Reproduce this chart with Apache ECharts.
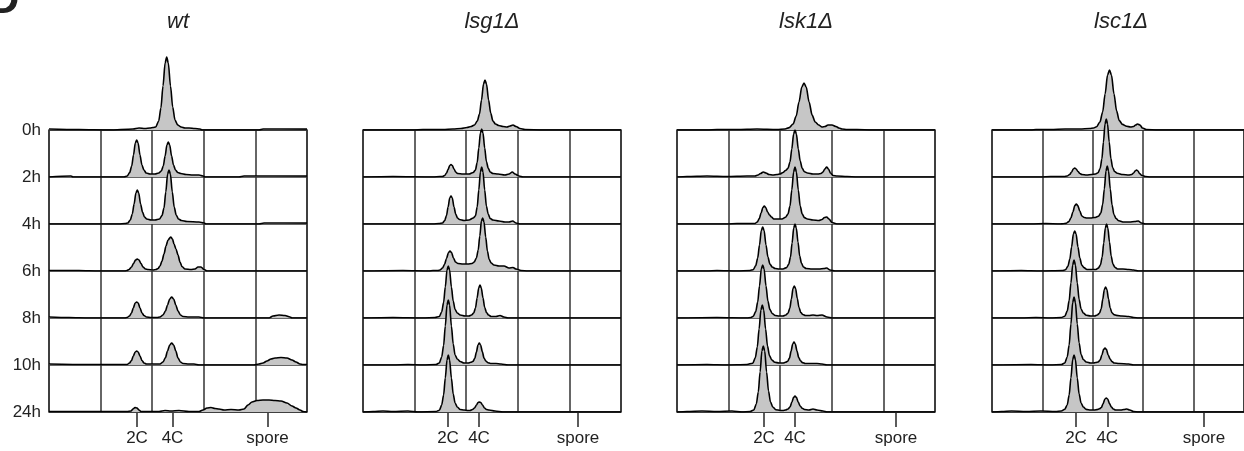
<!DOCTYPE html>
<html><head><meta charset="utf-8">
<script src="https://cdn.jsdelivr.net/npm/echarts@6/dist/echarts.min.js"></script>
<style>html,body{margin:0;padding:0;background:#fff}#c{width:1244px;height:451px}</style>
</head><body><div id="c"></div>
<script>
// ---- labels ----
const panelTitles = ['wt', 'lsg1Δ', 'lsk1Δ', 'lsc1Δ'];
const rowLabels = ['0h', '2h', '4h', '6h', '8h', '10h', '24h'];
const tickNames = ['2C', '4C', 'spore'];
const tickPos_wt = [88, 123.5, 218.5];
const tickPos_lsg1 = [85, 116, 215];
const tickPos_lsk1 = [87, 118, 219];
const tickPos_lsc1 = [86, 118, 217];

// ---- histograms: [DNA content channel, cell count] ----
const wt_0h = [[0,1],[30,0.5],[60,0],[84,1],[90,2],[96,1.5],[101,2],[104,2.5],[106.7,3],[109.7,9],[111.9,22],[114,44],[116.1,67],[117.7,73],[119.3,67],[121.5,44],[123.7,23],[126,10],[128.7,5],[132.1,3],[136,2],[140,2],[146,1.5],[151,1],[153,0],[210,0],[214,1],[230,1],[258,1]];
const wt_2h = [[0,0],[22,1],[24,0],[75,0],[78.2,1],[80.7,4.5],[82.7,11],[84.5,22],[86.3,34],[87.7,37],[89.1,34],[91,22],[92.9,12],[94.9,7],[97.2,4],[101,3],[106,3],[109.8,4],[112.3,6],[114.3,11],[116.1,21],[117.9,32],[119.3,35],[120.7,32],[122.6,21],[124.5,12],[126.5,7],[128.8,4.5],[131.8,3.5],[137,2.5],[144,2],[150,2],[154,1],[156,0],[190,0],[195,1],[205,1],[215,1],[225,1],[258,1]];
const wt_4h = [[0,0],[70,0],[76,0.5],[78.8,1],[81.3,4],[83.3,10],[85.1,20],[86.9,31],[88.3,34],[89.7,31],[91.6,20],[93.5,12],[95.5,7],[97.8,5],[102,4],[106,4],[110.5,5],[113,8.5],[115,16],[116.8,32],[118.6,50],[120,54],[121.4,50],[123.3,32],[125.2,17],[127.2,9],[129.5,5],[132.5,3.5],[138,2.5],[150,2],[155,1],[157,0],[210,0],[215,1],[235,1],[258,1]];
const wt_6h = [[0,0.5],[30,0.5],[50,0],[76,0],[78,0.5],[80,1.5],[82.5,4],[84.5,7.5],[86.5,11],[88.3,12],[90,11],[92,7.5],[94,4],[96.5,2],[99,1.5],[104,1],[107,1.5],[109,2.5],[111,5],[113,10],[115,17],[117,25],[119,31],[121.7,34],[123.5,32],[125,27],[127,22],[129,16],[131,9],[133,4.5],[136,2],[142,1.5],[146,2],[149,4],[152,4],[155,1.5],[158,0],[258,0]];
const wt_8h = [[0,1],[20,0.5],[40,0],[76,0],[78,0.5],[80.5,2],[82.5,5],[84.3,10],[86.2,15],[87.7,16],[89.2,15],[91,10],[93,5],[95,2.5],[97.5,1],[102,0.5],[108,0.5],[111,1],[114,3],[116.5,7],[118.5,13],[120.7,19],[122.7,21],[124.7,19],[126.8,13],[129,7],[131.5,3],[134,1.5],[140,1],[150,1],[155,0],[220,0],[224,2],[230,3],[236,2.5],[241,1],[243,0],[258,0]];
const wt_10h = [[0,1],[40,0.5],[76,0.5],[78,0.5],[80.5,2],[82.5,4.5],[84.3,9],[86.2,13],[87.7,14],[89.2,13],[91,9],[93,4.5],[95,2],[97.5,1],[102,1],[108,1],[111,1],[114,3],[116.5,7.5],[118.5,14],[120.7,20],[122.7,22],[124.7,20],[126.8,14],[129,7],[131.5,3],[134,1.5],[140,1],[145,1],[150,0],[205,0],[210,1],[214,2],[218,4],[222,6],[226,7],[232,7.5],[238,7],[243,5],[247,3],[251,1],[254,0.5],[258,0.5]];
const wt_24h = [[0,0.5],[40,0.5],[78,0.5],[82,1],[84,3],[86,4.5],[88,4],[90,2],[92,0.5],[110,0.5],[116,1.5],[122,1],[130,1.5],[140,0.5],[150,0.5],[154,2],[158,4],[162,4.5],[166,3.5],[170,3],[175,2],[182,2.5],[190,2],[195,3],[199,7],[203,10],[208,11.5],[214,12],[220,12],[226,11.5],[232,11],[238,9],[243,6],[247,4],[251,2],[254,0.5],[258,0]];

const lsg1_0h = [[0,0],[50,0],[60,0.5],[80,0.5],[90,1],[98,1.5],[104,2.5],[108,3.5],[111.5,5],[114.3,9],[116.5,16],[118.5,30],[120.5,46],[122,50],[123.5,46],[125.6,30],[127.7,17],[129.9,9],[132.5,6],[135.8,4.5],[140,3.5],[144,3],[147,4],[150,5],[153,3.5],[157,1.5],[162,0.5],[180,0],[258,0]];
const lsg1_2h = [[0,0],[30,0.5],[70,0],[77,0.5],[79.5,0.5],[81.7,1.5],[83.5,4],[85.1,7.5],[86.7,11.5],[88,12.5],[89.3,11.5],[91,8],[92.7,5],[94.5,3.5],[100,3],[106,3],[110.2,4.5],[112.4,7],[114.2,14.5],[115.8,29],[117.4,44],[118.7,48],[120,44],[121.7,29],[123.4,15.5],[125.2,9],[127.2,5],[129.9,3.5],[135,3],[142,2],[146,3],[149.3,5],[152,3],[156,1],[160,0],[258,0]];
const lsg1_4h = [[0,0],[70,0],[76,0.5],[79.5,1],[81.7,3.5],[83.5,8.5],[85.1,17],[86.7,26],[88,28],[89.3,26],[91,17],[92.7,10],[94.5,6],[96.5,4.5],[101,3.5],[106,4],[110.2,6],[112.4,8],[114.2,17],[115.8,34],[117.4,52],[118.7,57],[120,52],[121.7,34],[123.4,18],[125.2,10],[127.2,5.5],[129.9,4],[136,3],[142,2],[146,2],[149.7,3],[153,1],[157,0],[258,0]];
const lsg1_6h = [[0,0],[40,0.5],[66,0],[70,0.5],[75,0.5],[77,1],[79.5,3],[81.5,6.5],[83.5,12.5],[85.5,18.5],[87,20],[88.5,18.5],[90.5,13],[92.5,9],[95,7.5],[100,7],[105,7],[109,7.5],[111.2,9],[113.4,13],[115.2,21],[116.8,35],[118.4,50],[119.7,53],[121,49],[122.7,34],[124.4,20],[126.2,11.5],[128.2,8],[130.9,6],[136,5],[141,5],[146,3],[150,3.5],[153,2],[158,0.5],[165,0],[258,0]];
const lsg1_8h = [[0,0],[30,0.5],[60,0],[72,0.5],[76.3,1.5],[78.7,6],[80.6,15.5],[82.3,31],[84,48],[85.3,52],[86.6,48],[88.4,31],[90.2,17],[92.1,8.5],[94.3,5],[97.2,3],[102,2],[106,2],[108.5,3],[110.7,5],[112.5,10],[114.1,20],[115.7,30],[117,33],[118.3,30],[120,20],[121.7,10.5],[123.5,5.5],[125.5,3],[128.2,1.5],[133,1.5],[137,2.5],[141,1],[145,0],[258,0]];
const lsg1_10h = [[0,0],[30,0],[45,0.5],[60,0],[73,0.5],[76.3,2],[78.7,8],[80.6,19.5],[82.3,39],[84,60],[85.3,65],[86.6,60],[88.4,39],[90.2,21],[92.1,10],[94.3,6],[97.2,3.5],[101,2],[105,2],[107.8,2.7],[110,3.6],[111.8,6.6],[113.4,13],[115,20],[116.3,22],[117.6,20],[119.3,13.5],[121,7],[122.8,4],[124.8,2.3],[127.5,1.5],[133,1.5],[138,1],[145,0],[258,0]];
const lsg1_24h = [[0,0],[10,0.5],[20,1],[30,0.5],[45,1],[55,0],[73,0.5],[76.3,1.7],[78.7,7],[80.6,17],[82.3,34],[84,52],[85.3,57],[86.6,52],[88.4,34],[90.2,18],[92.1,9],[94.3,5],[97.2,2.5],[101,2],[105,1.5],[107,1.5],[109.5,2.5],[111.5,4],[113.5,7],[115,9.5],[116.3,10],[117.8,9.5],[119.5,7],[121.5,4],[123.5,2.5],[126,2],[132,1],[140,0],[258,0]];

const lsk1_0h = [[0,0],[30,0],[40,0.5],[60,0.5],[80,1],[100,0.5],[108,1],[112.3,2.4],[116.1,6],[119.2,14],[122,28],[124.8,43],[127,47],[129.2,43],[132.1,28],[135.1,15],[138.2,8],[141.7,5],[145,3],[148,3.5],[151,5],[155,5],[159,3.5],[162,2],[165,1],[170,0.5],[180,0.5],[195,0],[258,0]];
const lsk1_2h = [[0,0],[10,0.5],[30,1],[50,0.5],[70,1],[78,1],[81,2],[83.5,3.5],[86.3,5],[89,4],[92,2.5],[96,2],[100,2.5],[103,3],[106,4.5],[108.5,6.5],[111,8.6],[113,15],[114.8,28],[116.6,43],[118,47],[119.4,43],[121.3,28],[123.2,16],[125.2,8.6],[127.5,5.3],[130.5,4],[136,3],[141,3],[144,3.5],[146,5],[147.8,8],[149.7,10],[151.5,8],[153.5,4],[156,1.5],[160,1],[170,0.5],[180,0],[258,0]];
const lsk1_4h = [[0,0],[50,0],[60,0.5],[75,0.5],[77.8,0.5],[80.3,2],[82.3,5.5],[84.1,11],[85.9,16.5],[87.3,18],[88.7,16.5],[90.6,12],[92.5,9],[94.5,7],[96.8,5],[101,5],[105,5],[108.5,6.7],[111,10],[113,18],[114.8,34],[116.6,52],[118,57],[119.4,52],[121.3,34],[123.2,18],[125.2,10],[127.5,6.4],[130.5,5],[136,4],[142,3.5],[145,4.5],[147.5,6.5],[149.7,7],[152,5],[155,1.5],[160,0],[258,0]];
const lsk1_6h = [[0,0],[30,0],[40,0.5],[60,0],[73,0.5],[76.2,1.3],[78.7,5.3],[80.7,13],[82.5,26],[84.3,40.5],[85.7,44],[87.1,40.5],[89,26],[90.9,14],[92.9,7],[95.2,4],[98.2,2.5],[102,2],[106,2],[109.5,3.4],[111.7,6.6],[113.5,14],[115.1,28],[116.7,43],[118,47],[119.3,43],[121,29],[122.7,15],[124.5,7.6],[126.5,4],[129.2,2.5],[135,2],[142,2],[147,2.5],[149.7,3],[153,1],[158,0],[258,0]];
const lsk1_8h = [[0,0],[40,0.5],[70,0],[74,0.5],[76.2,1.6],[78.7,6.4],[80.7,16],[82.5,32],[84.3,49],[85.7,53],[87.1,49],[89,32],[90.9,17],[92.9,8.4],[95.2,4.5],[98.2,2.5],[102,2],[106,2],[108.8,3],[111,4.8],[112.8,9.6],[114.4,19],[116,29.5],[117.3,32],[118.6,29.5],[120.3,19.5],[122,10.5],[123.8,5.5],[125.8,3.5],[128.5,2.5],[132,2.5],[136,3],[140,2.5],[145,3],[150,1],[155,0],[258,0]];
const lsk1_10h = [[0,0],[30,0.5],[50,0],[70,0.5],[75.8,1.8],[78.3,7.2],[80.3,18],[82.1,36],[83.9,55],[85.3,60],[86.7,55],[88.6,36],[90.5,19],[92.5,9.4],[94.8,5],[97.8,2.7],[102,2],[106,2],[108.5,2.7],[110.7,3.8],[112.5,7],[114.1,14],[115.7,21],[117,23],[118.3,21],[120,14],[121.7,7.5],[123.5,4.2],[125.5,2.4],[128.2,1.5],[134,1.5],[140,1.5],[145,1],[150,0],[258,0]];
const lsk1_24h = [[0,0],[10,0.5],[25,1],[40,0.5],[55,1],[65,0],[73,0.5],[76.8,2],[79.3,8],[81.3,20],[83.1,40],[84.9,61],[86.3,66],[87.7,61],[89.6,40],[91.5,21],[93.5,10],[95.8,5],[98.8,2.3],[103,1.5],[106,1.5],[108.5,2],[111,3],[113,5],[114.8,9.6],[116.6,14.7],[118,16],[119.4,14.7],[121.3,9.6],[123.2,6],[125.2,3.7],[127.5,2.5],[132,2],[136,3],[140,2],[146,1],[150,0],[258,0]];

const lsc1_0h = [[0,0],[40,0],[45,0.5],[60,0.5],[75,1],[90,1],[100,1.5],[104,2],[107,3.3],[110.5,8],[113.3,18],[115.8,36],[118.3,55],[120.3,60],[122.3,55],[124.9,36],[127.6,19],[130.3,9.4],[133.6,5.6],[137.8,3.7],[142,3],[145,3.5],[147,5],[149,6],[151.5,5],[154,2],[158,0.5],[170,0],[258,0]];
const lsc1_2h = [[0,0],[50,0],[60,0.5],[74,0.5],[77,1],[79.5,2.5],[81.5,5],[83.2,8],[84.7,9],[86.2,8],[88,5.5],[90,3.5],[92,2.5],[97,2],[102,2.5],[106,3],[108.5,4.2],[110.7,8.5],[112.5,18],[114.1,35],[115.7,53],[117,58],[118.3,53],[120,35],[121.7,18.5],[123.5,9.5],[125.5,5.5],[128.2,3.7],[134,2.5],[140,2],[143,2.5],[145,4],[146.5,6],[148,7],[149.5,6],[151,3.5],[153.5,1.5],[157,0.5],[162,0],[258,0]];
const lsc1_4h = [[0,0],[40,0],[55,0.5],[70,0],[73,0.3],[75.8,0.6],[78.6,2.4],[80.8,6],[82.8,12],[84.8,18.4],[86.3,20],[87.8,18.4],[89.9,13],[92,8],[94.5,6.5],[97,6],[101,6],[105,6.5],[109,7.7],[111.4,11],[113.3,19.4],[115,35],[116.7,53],[118,58],[119.3,53],[121.1,35],[122.9,19],[124.8,9.5],[127,5.5],[129.9,3.2],[135,2],[141,2],[146,2.5],[149.7,3],[153,1],[157,0],[258,0]];
const lsc1_6h = [[0,0],[30,0.5],[50,0],[72,0.5],[75.2,1.2],[77.7,4.8],[79.7,12],[81.5,24],[83.3,37],[84.7,40],[86.1,37],[88,24],[89.9,13],[91.9,6],[94.2,3.4],[97.2,1.5],[102,1.5],[106,1.5],[108.8,2.9],[111,6],[112.8,14],[114.4,28],[116,43],[117.3,47],[118.6,43],[120.3,29],[122,15],[123.8,7],[125.8,3.8],[128.5,2],[134,2],[140,1.5],[145,1],[150,0],[258,0]];
const lsc1_8h = [[0,0],[30,0],[45,0.5],[60,0],[71,0.5],[74.5,1.7],[77,7],[79,17.4],[80.8,35],[82.6,53],[84,58],[85.4,53],[87.3,35],[89.2,18.5],[91.2,9],[93.5,5],[96.5,2.7],[101,2],[105,2],[107.8,3],[110,4.7],[111.8,9.3],[113.4,18.6],[115,28.5],[116.3,31],[117.6,28.5],[119.3,19],[121,10],[122.8,5.3],[124.8,3.4],[127.5,2.6],[133,2],[140,1.5],[145,0.5],[150,0],[258,0]];
const lsc1_10h = [[0,0],[40,0.5],[60,0],[71,0.5],[74.5,2],[77,8],[79,20],[80.8,41],[82.6,62.5],[84,68],[85.4,62.5],[87.3,41],[89.2,22],[91.2,10.5],[93.5,5.5],[96.5,3],[101,2],[104,2],[106.2,2.5],[108.7,3],[110.7,5],[112.5,10],[114.3,15.6],[115.7,17],[117.1,15.6],[119,10],[120.9,6],[122.9,3.4],[125.2,2],[130,1.5],[140,1],[145,0],[258,0]];
const lsc1_24h = [[0,0],[10,0.5],[20,1],[35,0.5],[50,1],[65,0.5],[71,1],[74.5,2.7],[77,7],[79,17],[80.8,34],[82.6,52.5],[84,57],[85.4,52.5],[87.3,34],[89.2,18],[91.2,9],[93.5,5],[96.5,2.6],[101,2],[105,2],[107.5,2.4],[110,3.2],[112,4.5],[113.8,8.4],[115.6,13],[117,14],[118.4,13],[120.3,8.4],[122.2,5],[124.2,3],[126.5,2],[132,2],[135,2.5],[138,3],[141,2],[145,0.5],[150,0],[258,0]];

const panelHists = [
  [wt_0h, wt_2h, wt_4h, wt_6h, wt_8h, wt_10h, wt_24h],
  [lsg1_0h, lsg1_2h, lsg1_4h, lsg1_6h, lsg1_8h, lsg1_10h, lsg1_24h],
  [lsk1_0h, lsk1_2h, lsk1_4h, lsk1_6h, lsk1_8h, lsk1_10h, lsk1_24h],
  [lsc1_0h, lsc1_2h, lsc1_4h, lsc1_6h, lsc1_8h, lsc1_10h, lsc1_24h]
];
const panelTicks = [tickPos_wt, tickPos_lsg1, tickPos_lsk1, tickPos_lsc1];

// ---- layout ----
const FONT = '"Liberation Sans", Arial, Helvetica, sans-serif';
const boxLeft = [49, 363, 677, 992];
const boxW = 258, boxTop = 130, rowStep = 47, nRows = 7;
const histH = 80, xMax = 258;
const frameColor = '#333';
const textColor = '#222';

const grid = [], xAxis = [], yAxis = [], series = [], graphic = [];

panelTitles.forEach((t, p) => {
  const gi = grid.length;
  grid.push({left: boxLeft[p], top: boxTop, width: boxW, height: rowStep * (nRows - 1),
    show: true, borderColor: frameColor, borderWidth: 1.5, backgroundColor: 'transparent'});
  xAxis.push({gridIndex: gi, type: 'value', min: 0, max: xMax, interval: xMax / 5, position: 'top',
    axisLine: {show: false}, axisTick: {show: false}, axisLabel: {show: false},
    splitLine: {show: true, lineStyle: {color: frameColor, width: 1.5}}});
  const tp = panelTicks[p];
  xAxis.push({gridIndex: gi, type: 'value', min: 0, max: xMax, position: 'bottom', offset: 1,
    axisLine: {show: false}, splitLine: {show: false},
    axisTick: {show: true, customValues: tp, length: 14, lineStyle: {color: '#333', width: 1.6}},
    axisLabel: {show: true, customValues: tp, margin: 17, fontSize: 17, color: textColor, fontFamily: FONT,
      formatter: v => { let b = 0; tp.forEach((q, i) => { if (Math.abs(q - v) < Math.abs(tp[b] - v)) b = i; }); return tickNames[b]; }}});
  yAxis.push({gridIndex: gi, type: 'value', min: 0, max: nRows - 1, interval: 1,
    axisLine: {show: false}, axisTick: {show: false},
    axisLabel: p === 0 ? {show: true, margin: 8, fontSize: 17, color: textColor, fontFamily: FONT,
      formatter: v => rowLabels[nRows - 1 - v]} : {show: false},
    splitLine: {show: true, lineStyle: {color: frameColor, width: 1.5}}});
  graphic.push({type: 'text', x: boxLeft[p] + boxW / 2, y: 22,
    style: {text: t, fill: textColor, font: 'italic 22px ' + FONT, textAlign: 'center', textVerticalAlign: 'middle'}});
});

panelHists.forEach((rows, p) => {
  rows.forEach((d, r) => {
    const gi = grid.length;
    const base = boxTop + r * rowStep;
    grid.push({left: boxLeft[p], top: base - histH, width: boxW, height: histH});
    xAxis.push({gridIndex: gi, type: 'value', min: 0, max: xMax, show: false});
    yAxis.push({gridIndex: gi, type: 'value', min: 0, max: histH, show: false});
    series.push({type: 'line', xAxisIndex: xAxis.length - 1, yAxisIndex: yAxis.length - 1,
      data: d, symbol: 'none', smooth: 0.3, smoothMonotone: 'x', z: 3 + r,
      lineStyle: {color: '#000', width: 1.6},
      areaStyle: {color: '#c6c6c6', opacity: 1}});
  });
});

// panel letter (cut off at the top-left corner)
graphic.push({type: 'text', x: -11, y: 22,
  style: {text: 'D', fill: '#222', font: 'bold 42px ' + FONT, textAlign: 'left', textVerticalAlign: 'bottom'}});

const chart = echarts.init(document.getElementById('c'), null, {renderer: 'canvas'});
chart.setOption({animation: false, backgroundColor: '#fff', grid, xAxis, yAxis, series, graphic});
</script></body></html>
